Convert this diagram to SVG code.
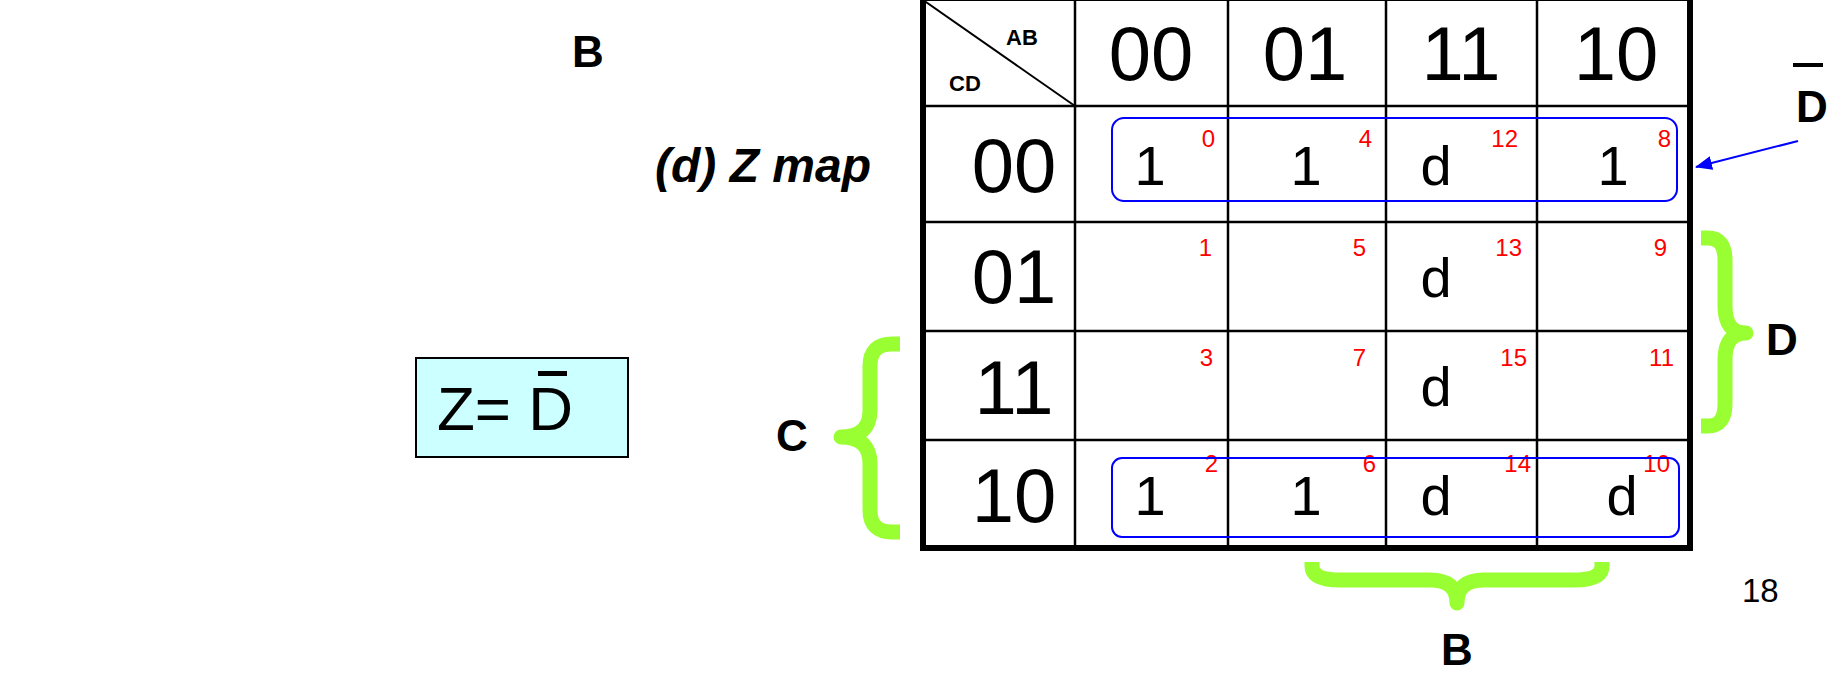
<svg xmlns="http://www.w3.org/2000/svg" width="1848" height="675" viewBox="0 0 1848 675">
  <defs>
    <style>
      text { font-family: "Liberation Sans", Arial, sans-serif; }
      .hdr { font-size: 76px; fill: #000; text-anchor: middle; }
      .val { font-size: 56px; fill: #000; text-anchor: middle; }
      .idx { font-size: 24px; fill: #ff0000; text-anchor: end; }
      .lbl { font-size: 44px; font-weight: bold; fill: #000; }
      .corner { font-size: 22px; font-weight: bold; fill: #000; }
      .inner { stroke: #000; stroke-width: 2.5; fill: none; }
      .brace { fill: none; stroke: #99ff33; stroke-width: 15; stroke-linejoin: round; }
      .loop { fill: none; stroke: #0000ff; stroke-width: 2; }
    </style>
    <marker id="arrowBlue" viewBox="0 0 17 14" refX="16" refY="7" markerWidth="17" markerHeight="14" markerUnits="userSpaceOnUse" orient="auto">
      <path d="M0,0 L17,7 L0,14 Z" fill="#0000ff"/>
    </marker>
  </defs>

  <rect width="1848" height="675" fill="#ffffff"/>

  <!-- stray labels at left -->
  <text id="label-b-top" class="lbl" x="572" y="67">B</text>
  <text id="title" x="655" y="182" font-size="48" font-weight="bold" font-style="italic">(d) Z map</text>

  <!-- result box -->
  <g id="result">
    <rect x="416" y="358" width="212" height="99" fill="#ccffff" stroke="#000" stroke-width="2"/>
    <text x="437" y="430" font-size="62">Z= D</text>
    <line x1="538" y1="373.5" x2="567" y2="373.5" stroke="#000" stroke-width="5"/>
  </g>

  <!-- Karnaugh map grid -->
  <g id="kmap-grid">
    <line class="inner" x1="1075" y1="0" x2="1075" y2="548"/>
    <line class="inner" x1="1228" y1="0" x2="1228" y2="548"/>
    <line class="inner" x1="1386" y1="0" x2="1386" y2="548"/>
    <line class="inner" x1="1537" y1="0" x2="1537" y2="548"/>
    <line class="inner" x1="923" y1="106" x2="1690" y2="106"/>
    <line class="inner" x1="923" y1="222" x2="1690" y2="222"/>
    <line class="inner" x1="923" y1="331" x2="1690" y2="331"/>
    <line class="inner" x1="923" y1="440" x2="1690" y2="440"/>
    <line x1="923" y1="0" x2="1075" y2="106" stroke="#000" stroke-width="2"/>
    <rect x="923" y="-2" width="767" height="550" fill="none" stroke="#000" stroke-width="6"/>
  </g>

  <!-- corner labels -->
  <g id="corner">
    <text class="corner" x="1006" y="45">AB</text>
    <text class="corner" x="949" y="91">CD</text>
  </g>

  <!-- column headers (AB) -->
  <g id="col-headers">
    <text class="hdr" x="1151" y="80">00</text>
    <text class="hdr" x="1305" y="80">01</text>
    <text class="hdr" x="1461" y="80">11</text>
    <text class="hdr" x="1616" y="80">10</text>
  </g>

  <!-- row headers (CD) -->
  <g id="row-headers">
    <text class="hdr" x="1014" y="192">00</text>
    <text class="hdr" x="1014" y="303">01</text>
    <text class="hdr" x="1014" y="414">11</text>
    <text class="hdr" x="1014" y="522">10</text>
  </g>

  <!-- cell values -->
  <g id="cells">
    <text class="val" x="1150" y="185">1</text>
    <text class="val" x="1306" y="185">1</text>
    <text class="val" x="1436" y="185">d</text>
    <text class="val" x="1613" y="185">1</text>

    <text class="val" x="1436" y="297">d</text>
    <text class="val" x="1436" y="406">d</text>

    <text class="val" x="1150" y="515">1</text>
    <text class="val" x="1306" y="515">1</text>
    <text class="val" x="1436" y="515">d</text>
    <text class="val" x="1622" y="515">d</text>
  </g>

  <!-- minterm indices -->
  <g id="indices">
    <text class="idx" x="1215" y="147">0</text>
    <text class="idx" x="1372" y="147">4</text>
    <text class="idx" x="1518" y="147">12</text>
    <text class="idx" x="1671" y="147">8</text>

    <text class="idx" x="1212" y="256">1</text>
    <text class="idx" x="1366" y="256">5</text>
    <text class="idx" x="1522" y="256">13</text>
    <text class="idx" x="1667" y="256">9</text>

    <text class="idx" x="1213" y="366">3</text>
    <text class="idx" x="1366" y="366">7</text>
    <text class="idx" x="1527" y="366">15</text>
    <text class="idx" x="1674" y="366">11</text>

    <text class="idx" x="1218" y="472">2</text>
    <text class="idx" x="1376" y="472">6</text>
    <text class="idx" x="1531" y="472">14</text>
    <text class="idx" x="1670" y="472">10</text>
  </g>

  <!-- groupings -->
  <g id="loops">
    <rect class="loop" x="1112" y="118" width="565" height="83" rx="12"/>
    <rect class="loop" x="1112" y="458" width="567" height="79" rx="10"/>
  </g>

  <!-- variable braces -->
  <g id="brace-d">
    <path class="brace" d="M1701,238 H1708 Q1725,238 1725,260 V306 Q1725,333 1746,333 Q1725,333 1725,360 V404 Q1725,426 1708,426 H1701"/>
    <text class="lbl" x="1766" y="355">D</text>
  </g>
  <g id="brace-c">
    <path class="brace" d="M900,344 H892 Q870,344 870,366 V410 Q870,437 841,437 Q870,437 870,464 V510 Q870,532 892,532 H900"/>
    <text class="lbl" x="776" y="451">C</text>
  </g>
  <g id="brace-b">
    <path class="brace" d="M1312,562 V566 Q1312,580 1340,580 H1430 Q1457,580 1457,603 Q1457,580 1484,580 H1574 Q1602,580 1602,566 V562"/>
    <text class="lbl" x="1441" y="665">B</text>
  </g>

  <!-- D-bar pointer -->
  <g id="dbar">
    <text class="lbl" x="1796" y="122" font-size="40">D</text>
    <line x1="1793" y1="65" x2="1823" y2="65" stroke="#000" stroke-width="4"/>
  </g>
  <g id="connectors">
    <line x1="1798" y1="141" x2="1696" y2="167" stroke="#0000ff" stroke-width="2" marker-end="url(#arrowBlue)"/>
  </g>

  <!-- page number -->
  <text id="page" x="1742" y="602" font-size="33">18</text>
</svg>
